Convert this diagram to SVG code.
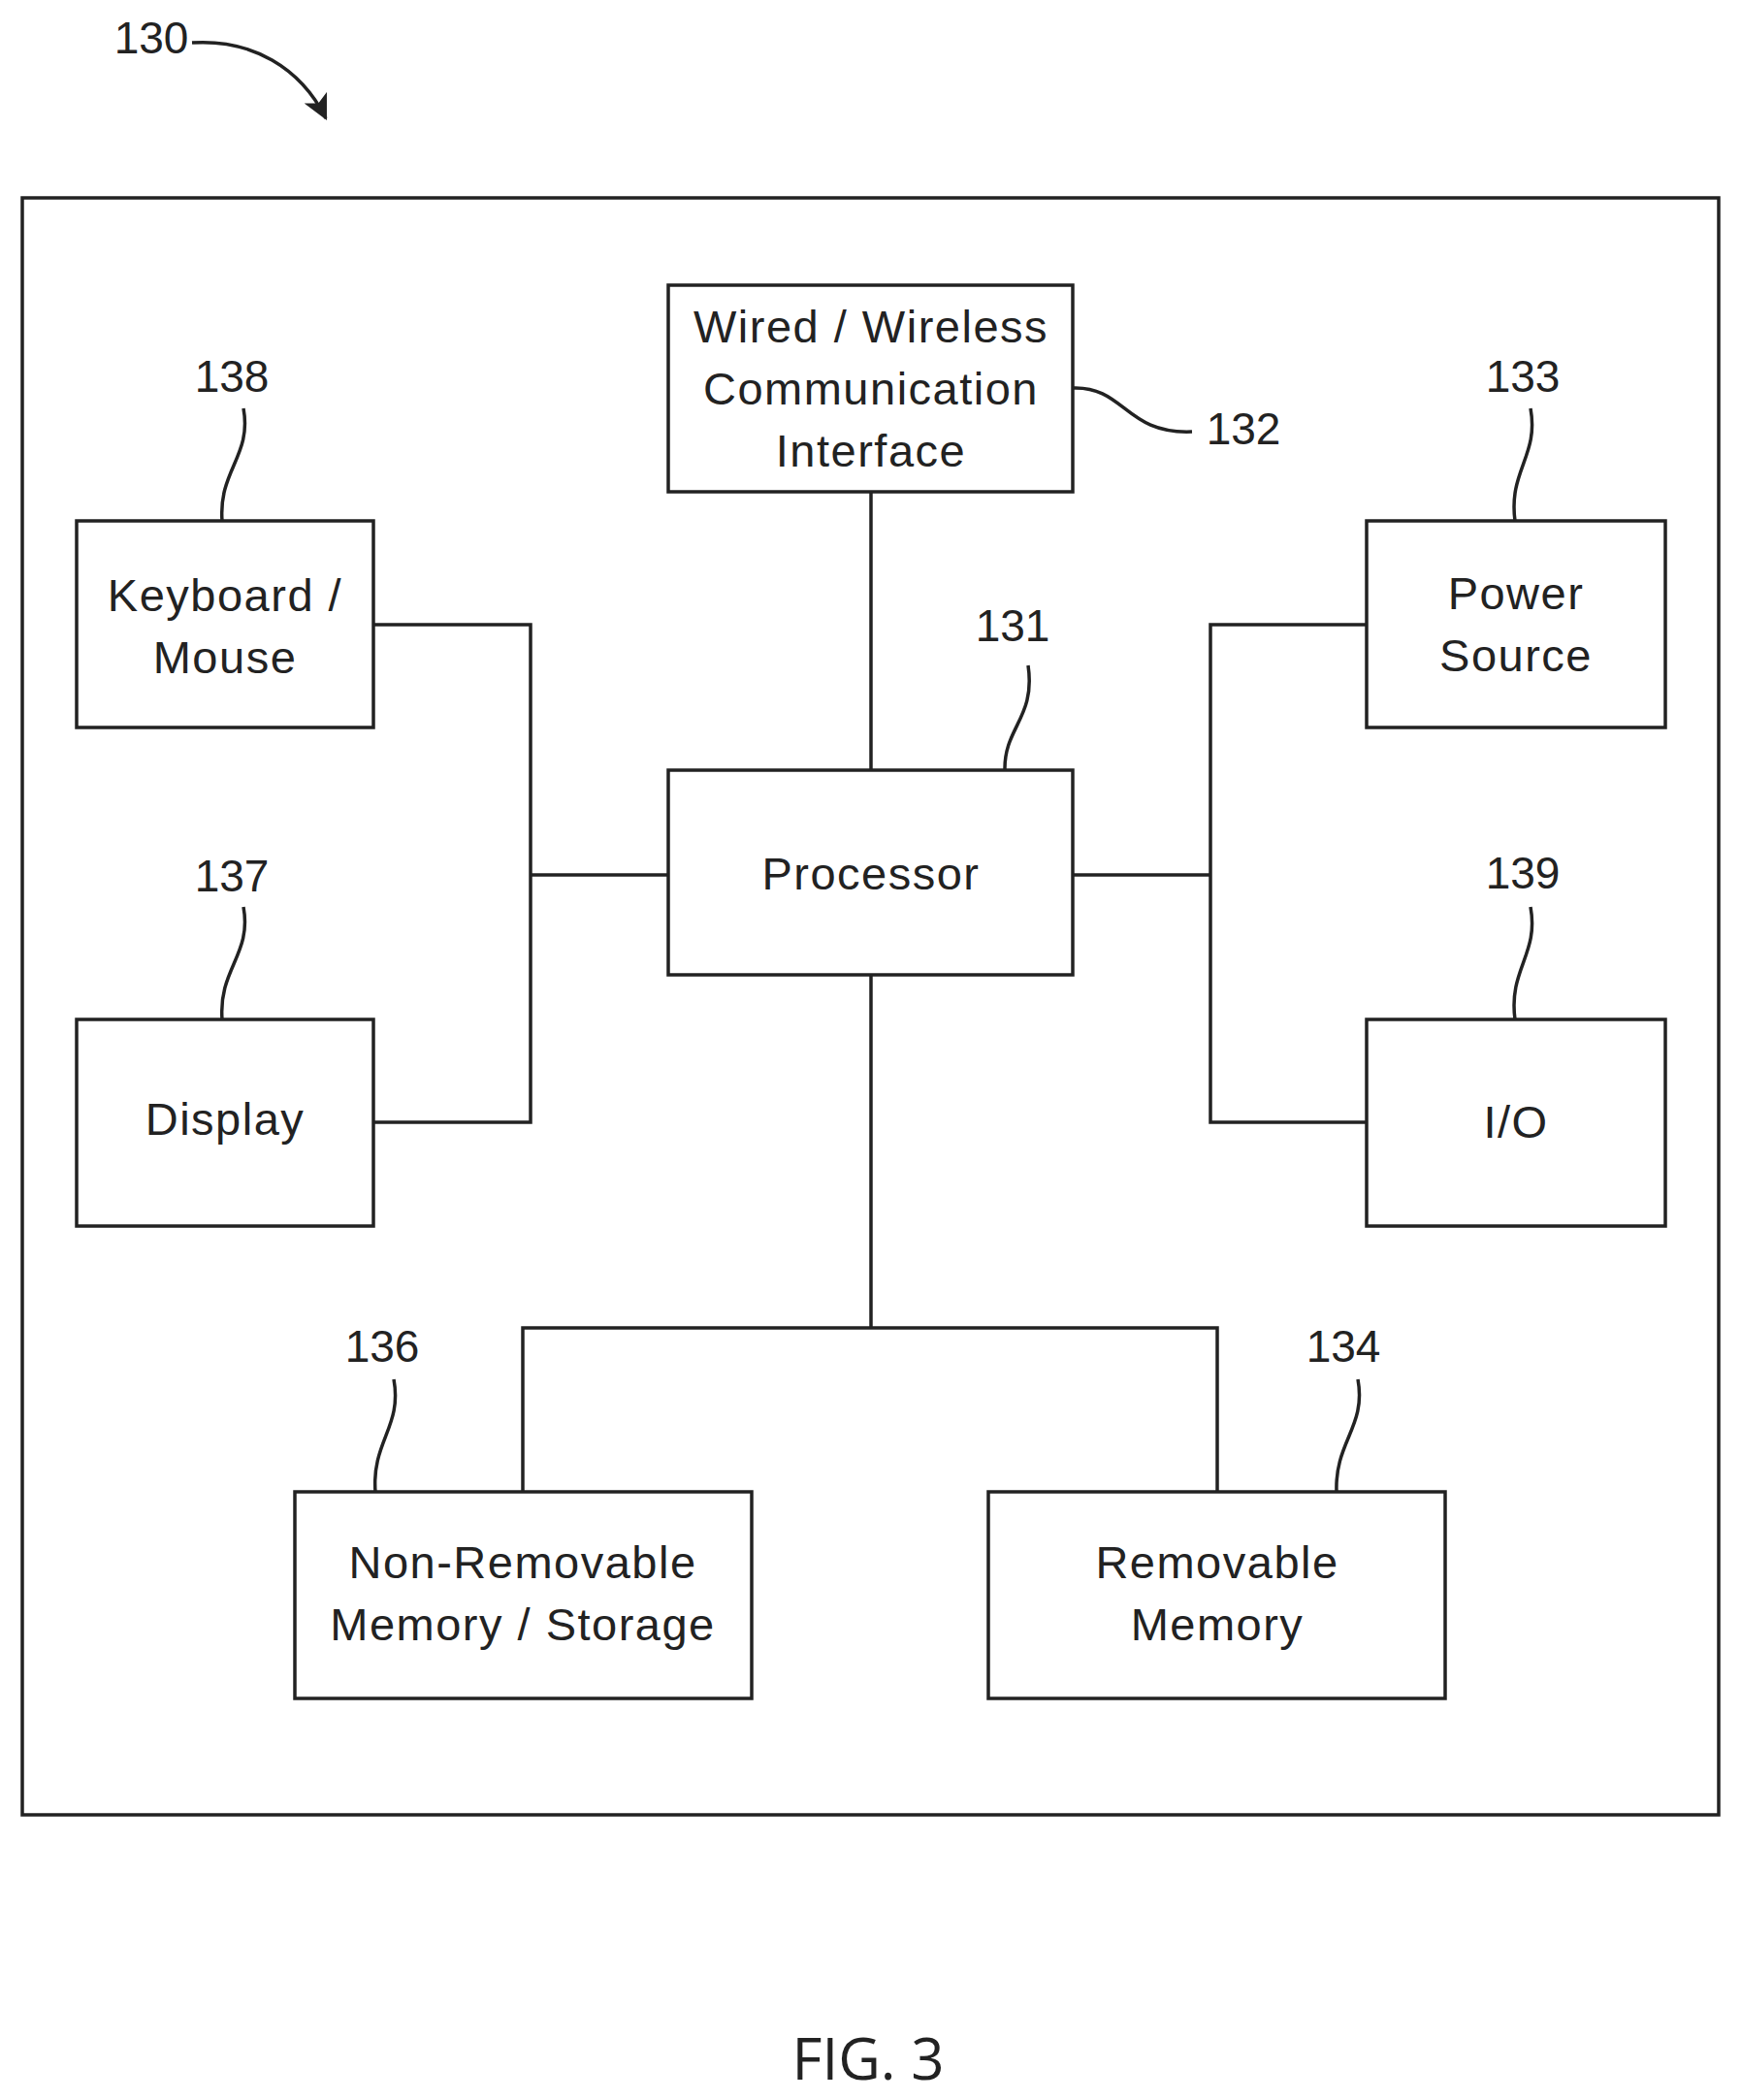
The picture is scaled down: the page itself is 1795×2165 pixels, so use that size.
<svg xmlns="http://www.w3.org/2000/svg" width="1795" height="2165" viewBox="0 0 1795 2165">
<style>
rect{fill:#fff;stroke:#222;stroke-width:3.5}
path,line{fill:none;stroke:#222;stroke-width:3.5}
text{font-family:"Liberation Sans",Arial,sans-serif;font-size:47px;fill:#222;text-anchor:middle;letter-spacing:1.5px}
.n{font-size:46px;letter-spacing:0}
.fig{font-family:"Open Sans","Liberation Sans",sans-serif;font-size:60px;letter-spacing:0}
</style>
<defs>
<marker id="a2" viewBox="0 0 12 12" refX="11" refY="6" markerWidth="26" markerHeight="26" markerUnits="userSpaceOnUse" orient="auto"><path d="M0,0 L12,6 L0,12 L3,6 Z" style="fill:#222;stroke:none"/></marker></defs>
<rect x="23" y="204" width="1749" height="1667"/>
<g id="connectors">
<line x1="898" y1="507" x2="898" y2="794"/>
<path d="M385,644 H547 V1157 H385"/>
<line x1="547" y1="902" x2="689" y2="902"/>
<path d="M1409,644 H1248 V1157 H1409"/>
<line x1="1106" y1="902" x2="1248" y2="902"/>
<line x1="898" y1="1005" x2="898" y2="1369"/>
<path d="M539,1538 V1369 H1255 V1538"/>
</g>
<g id="label130"><text x="156" y="55" class="n">130</text><path d="M198,44 C260,40 310,70 336,122" marker-end="url(#a2)"/></g>
<g id="n132"><rect x="689" y="294" width="417" height="213"/><text x="898" y="353">Wired / Wireless</text><text x="898" y="417">Communication</text><text x="898" y="481">Interface</text>
<path d="M1106,400 C1160,398 1160,448 1229,445"/><text x="1282" y="458" class="n">132</text></g>
<g id="n138"><rect x="79" y="537" width="306" height="213"/><text x="232" y="630">Keyboard /</text><text x="232" y="694">Mouse</text>
<text x="239" y="404" class="n">138</text><path d="M251,421 C260,470 225,485 229,537"/></g>
<g id="n137"><rect x="79" y="1051" width="306" height="213"/><text x="232" y="1170">Display</text>
<text x="239" y="919" class="n">137</text><path d="M251,935 C260,984 225,999 229,1051"/></g>
<g id="n131"><rect x="689" y="794" width="417" height="211"/><text x="898" y="917">Processor</text>
<text x="1044" y="661" class="n">131</text><path d="M1060,686 C1068,740 1035,750 1036,794"/></g>
<g id="n133"><rect x="1409" y="537" width="308" height="213"/><text x="1563" y="628">Power</text><text x="1563" y="692">Source</text>
<text x="1570" y="404" class="n">133</text><path d="M1578,421 C1587,470 1555,485 1562,537"/></g>
<g id="n139"><rect x="1409" y="1051" width="308" height="213"/><text x="1563" y="1173">I/O</text>
<text x="1570" y="916" class="n">139</text><path d="M1578,935 C1587,984 1555,999 1562,1051"/></g>
<g id="n136"><rect x="304" y="1538" width="471" height="213"/><text x="539" y="1627">Non-Removable</text><text x="539" y="1691">Memory / Storage</text>
<text x="394" y="1404" class="n">136</text><path d="M406,1422 C415,1471 383,1486 387,1538"/></g>
<g id="n134"><rect x="1019" y="1538" width="471" height="213"/><text x="1255" y="1627">Removable</text><text x="1255" y="1691">Memory</text>
<text x="1385" y="1404" class="n">134</text><path d="M1400,1422 C1409,1471 1376,1486 1378,1538"/></g>
<text x="895" y="2144" class="fig">FIG. 3</text>
</svg>
